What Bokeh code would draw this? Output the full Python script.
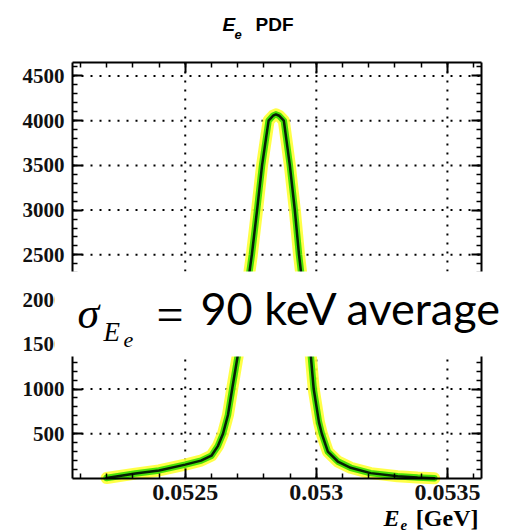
from bokeh.plotting import figure
from bokeh.models import Range1d, FixedTicker, LinearAxis, Label
from bokeh.embed import file_html
from bokeh.resources import INLINE

# ---- data ----
energy_gev = [0.05220, 0.05231, 0.05240, 0.05250, 0.05256, 0.05260, 0.052625,
              0.052644, 0.052663, 0.052679, 0.05270, 0.052754, 0.052774,
              0.052793, 0.052818, 0.052835, 0.052846, 0.052858, 0.052876,
              0.052899, 0.052918, 0.052934, 0.052979, 0.05299, 0.05301,
              0.053021, 0.053044, 0.053082, 0.053131, 0.053207, 0.05331,
              0.053386, 0.05345]
pdf_values = [5, 55, 90, 155, 200, 255, 365, 500, 710, 1000, 1370, 2500, 3000,
              3500, 4000, 4055, 4070, 4055, 4000, 3500, 3000, 2500, 1370, 1000,
              630, 500, 300, 190, 120, 60, 25, 10, 3]

x_ticks = [0.0525, 0.053, 0.0535]
x_tick_labels = ["0.0525", "0.053", "0.0535"]
x_minor = [0.0521, 0.0522, 0.0523, 0.0524, 0.0525, 0.0526, 0.0527, 0.0528,
           0.0529, 0.0530, 0.0531, 0.0532, 0.0533, 0.0534, 0.0535, 0.0536]
y_ticks = [500, 1000, 1500, 2000, 2500, 3000, 3500, 4000, 4500]
y_minor = list(range(100, 4700, 100))

# data limits of the ROOT-style frame
X_START, X_END = 0.05207, 0.05363
Y_START, Y_END = 0, 4650

# canvas and where the ROOT frame sits on it (pixels)
W, H = 508, 532
PL, PR, PT, PB = 72, 481, 62, 478

kx = (PR - PL) / (X_END - X_START)
ky = (PB - PT) / (Y_END - Y_START)
CX0, CX1 = X_START - PL / kx, X_START + (W - PL) / kx
CY0, CY1 = Y_START - (H - PB) / ky, Y_START + PB / ky

p = figure(width=W, height=H, output_backend="svg", toolbar_location=None,
           x_range=Range1d(CX0, CX1), y_range=Range1d(CY0, CY1),
           min_border=0, x_axis_location=None, y_axis_location=None)
p.outline_line_color = None
p.background_fill_color = "white"
p.border_fill_color = "white"
p.grid.visible = False

xt = FixedTicker(ticks=x_ticks, minor_ticks=x_minor)
yt = FixedTicker(ticks=y_ticks, minor_ticks=y_minor)

def make_axis(ticker, loc, bounds, labels, size="20px", **kw):
    ax = LinearAxis(ticker=ticker, fixed_location=loc, bounds=bounds, **kw)
    ax.axis_line_width = 2
    ax.axis_line_color = "black"
    ax.major_tick_in = 10
    ax.major_tick_out = 0
    ax.minor_tick_in = 5
    ax.minor_tick_out = 0
    ax.major_tick_line_width = 2
    ax.minor_tick_line_width = 1.5
    ax.major_tick_line_color = "black"
    ax.minor_tick_line_color = "black"
    if labels:
        ax.major_label_text_font = "Liberation Serif"
        ax.major_label_text_font_style = "bold"
        ax.major_label_text_font_size = size
        ax.major_label_text_color = "#111111"
    else:
        ax.major_label_text_font_size = "0px"
        ax.major_label_text_color = None
    return ax

# grid (dotted) at the major ticks, inside the frame only
p.segment(x0=x_ticks, y0=[Y_START] * len(x_ticks), x1=x_ticks, y1=[Y_END] * len(x_ticks),
          line_color="black", line_width=2, line_dash="2 7")
p.segment(x0=[X_START] * len(y_ticks), y0=y_ticks, x1=[X_END] * len(y_ticks), y1=y_ticks,
          line_color="black", line_width=2, line_dash="2 7")

xb = make_axis(xt, Y_START, (X_START, X_END), True, "24px",
               major_label_overrides=dict(zip(x_ticks, x_tick_labels)))
xb.major_label_standoff = 6
p.add_layout(xb, "below")
p.add_layout(make_axis(xt, Y_END, (X_START, X_END), False), "above")
yl = make_axis(yt, X_START, (Y_START, Y_END), True, "21px")
yl.major_label_standoff = 8
p.add_layout(yl, "left")
p.add_layout(make_axis(yt, X_END, (Y_START, Y_END), False), "right")

# curve with its glow band
p.line(energy_gev, pdf_values, line_color="#ffff33", line_width=12, line_alpha=0.9,
       line_join="round", line_cap="round")
p.line(energy_gev, pdf_values, line_color="#33dd00", line_width=6.5, line_alpha=0.9,
       line_join="round", line_cap="round")
p.line(energy_gev, pdf_values, line_color="#062006", line_width=2.5,
       line_join="round", line_cap="round")

def put(text, px, py, font="Liberation Serif", size=20, style="normal",
        align="left", baseline="alphabetic", color="black", shift=True, **kw):
    """place text with its baseline at canvas pixel (px, py), measured from top-left"""
    if shift:
        py = py - 0.33 * size
    lab = Label(x=CX0, y=CY0, x_units="data", y_units="data",
                x_offset=px, y_offset=H - py, text=text,
                text_font=font, text_font_size=f"{size}px", text_font_style=style,
                text_align=align, text_baseline=baseline, text_color=color, **kw)
    p.add_layout(lab)
    return lab

# title
put("E", 222, 30, font="Liberation Sans", size=19, style="bold italic")
put("e", 234, 38, font="Liberation Sans", size=13, style="bold italic")
put("PDF", 255, 30, font="Liberation Sans", size=19, style="bold")

# x axis title
put("E", 383, 525, size=24, style="bold italic")
put("e", 400, 529, size=15, style="bold italic")
put("[GeV]", 478, 525, size=24, style="bold", align="right")

# white box with sigma annotation
put(" ", 281.5, 313.5, size=1, align="center", baseline="middle", shift=False,
    background_fill_color="white", border_line_color=None,
    padding=dict(left=227, right=227, top=42, bottom=42))
put("σ", 77, 328, size=44, style="italic")
put("E", 103, 340, size=27, style="italic")
put("e", 123, 347, size=22, style="italic")
put("=", 156, 330, size=48)
put("90 keV average", 200, 322, font="Lato", size=45)

open("out.html", "w").write(file_html(p, INLINE))
